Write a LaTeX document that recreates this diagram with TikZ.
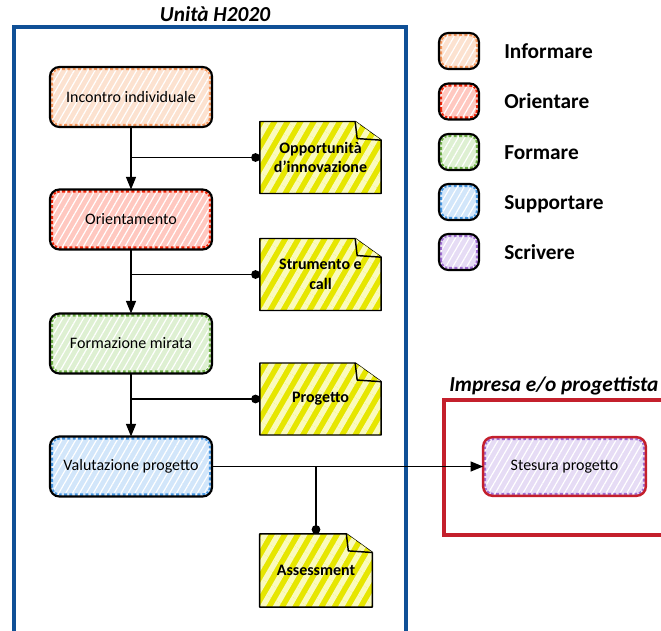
\documentclass[tikz,border=0pt]{standalone}
\usepackage{fontspec}
\setmainfont{Carlito}
\usetikzlibrary{patterns.meta,arrows.meta,calc,backgrounds}
\definecolor{framblue}{RGB}{16,80,150}
\definecolor{framred}{RGB}{196,32,44}
\definecolor{infoF}{RGB}{252,226,208}
\definecolor{infoE}{RGB}{246,150,90}
\definecolor{oriF}{RGB}{255,200,192}
\definecolor{oriE}{RGB}{240,40,10}
\definecolor{forF}{RGB}{222,240,210}
\definecolor{forE}{RGB}{110,175,70}
\definecolor{supF}{RGB}{210,230,250}
\definecolor{supE}{RGB}{70,150,225}
\definecolor{scrF}{RGB}{230,220,245}
\definecolor{scrE}{RGB}{160,110,210}
\definecolor{noteY}{RGB}{230,230,0}
\definecolor{noteL}{RGB}{250,250,190}
\tikzset{
  pbase/.style={rectangle, rounded corners=7pt, line width=1.6pt, outer sep=0pt,
    inner sep=0pt, align=center, font=\fontsize{12}{14}\selectfont,
    pattern={Lines[angle=60,distance=4.5pt,line width=0.9pt]}, pattern color=white},
  notetext/.style={rectangle, draw=none, outer sep=0pt, inner sep=0pt, align=center,
    font=\fontsize{12}{14.6}\selectfont\bfseries},
  notefill/.style={preaction={fill=noteY},
    pattern={Lines[angle=60,distance=8.5pt,line width=4.2pt]}, pattern color=noteL},
  conn/.style={line width=1.1pt, black},
  tri/.style={-{Triangle[length=9.5pt,width=7.5pt]}},
  dot/.style={-{Circle[length=6.5pt]}},
  title/.style={font=\fontsize{16}{19}\selectfont\bfseries\itshape, inner sep=0pt},
  legtext/.style={font=\fontsize{16}{19}\selectfont\bfseries, inner sep=0pt, anchor=base west},
}
% #1 name #2 pos #3 width #4 height #5 text #6 fill #7 edge #8 border #9 border width
\newcommand\pbox[9]{%
  \node[pbase, minimum width=#3, minimum height=#4, preaction={fill=#6}] (#1) at (#2) {#5};
  \begin{scope}
    \clip[rounded corners=7pt] (#1.south west) rectangle (#1.north east);
    \draw[#7, line width=4.6pt, dash pattern=on 2.2pt off 1.8pt, rounded corners=7pt]
      (#1.south west) rectangle (#1.north east);
  \end{scope}
  \draw[#8, line width=#9, rounded corners=7pt] (#1.south west) rectangle (#1.north east);
}
% #1 name #2 pos #3 width #4 height #5 text
\newcommand\notebox[5]{%
  \node[notetext, minimum width=#3, minimum height=#4] (#1) at (#2) {#5};
  \begin{scope}[on background layer]
    \path[notefill, draw=black, line width=1.1pt, line join=round]
      (#1.south west) -- (#1.north west) -- ([xshift=-19.5pt]#1.north east)
      -- ([yshift=-14pt]#1.north east) -- (#1.south east) -- cycle;
    \path[notefill, draw=black, line width=1.1pt, line join=round]
      ([xshift=-19.5pt]#1.north east) -- ([xshift=-18pt,yshift=-12.8pt]#1.north east)
      -- ([yshift=-14pt]#1.north east);
  \end{scope}
}
\begin{document}
\begin{tikzpicture}[x=0.75pt,y=-0.75pt]
\useasboundingbox (0,0) rectangle (661,631);
\clip (0,0) rectangle (661,631);

% frames
\draw[framblue, line width=3pt] (14,27) rectangle (406,720);
\node[title, anchor=base] (t1) at (215,22) {Unità H2020};
\draw[framred, line width=3pt] (444,400) rectangle (740,535);
\node[title, anchor=base west] (t2) at (449,391) {Impresa e/o progettista};

% process boxes
\pbox{inc}{131,97}{121.5pt}{45pt}{Incontro individuale}{infoF}{infoE}{black}{1.6pt}
\pbox{ori}{131,219.5}{121.5pt}{45pt}{Orientamento}{oriF}{oriE}{black}{1.6pt}
\pbox{for}{131,343.5}{121.5pt}{45pt}{Formazione mirata}{forF}{forE}{black}{1.6pt}
\pbox{val}{131,466.5}{121.5pt}{45pt}{Valutazione progetto}{supF}{supE}{black}{1.6pt}
\pbox{ste}{564.5,466.5}{122pt}{44pt}{Stesura progetto}{scrF}{scrE}{framred}{1.8pt}

% notes
\notebox{opp}{320.5,157.5}{91pt}{54pt}{Opportunità\\d’innovazione}
\notebox{str}{320.5,274.5}{91pt}{54pt}{Strumento e\\call}
\notebox{pro}{320.5,399}{91pt}{54pt}{Progetto}
\notebox{ass}{316,570.5}{84.5pt}{55pt}{Assessment}

% connectors
\draw[conn, tri] (inc) -- (ori);
\draw[conn, tri] (ori) -- (for);
\draw[conn, tri] (for) -- (val);
\draw[conn, dot] (inc.south |- opp.west) -- (opp.west);
\draw[conn, dot] (ori.south |- str.west) -- (str.west);
\draw[conn, dot] (for.south |- pro.west) -- (pro.west);
\draw[conn, tri] (val.east) -- (ste.west);
\coordinate (aj) at (ass.north |- val.east);
\draw[conn, dot] (aj) -- (ass.north);

% legend
\pbox{l1}{459,51}{30pt}{27pt}{}{infoF}{infoE}{black}{1.6pt}
\pbox{l2}{459,101.5}{30pt}{27pt}{}{oriF}{oriE}{black}{1.6pt}
\pbox{l3}{459,152}{30pt}{27pt}{}{forF}{forE}{black}{1.6pt}
\pbox{l4}{459,202}{30pt}{27pt}{}{supF}{supE}{black}{1.6pt}
\pbox{l5}{459,252}{30pt}{27pt}{}{scrF}{scrE}{black}{1.6pt}
\node[legtext] (lt1) at (504,58.5) {Informare};
\node[legtext] (lt2) at (504,109) {Orientare};
\node[legtext] (lt3) at (504,159.5) {Formare};
\node[legtext] (lt4) at (504,209.5) {Supportare};
\node[legtext] (lt5) at (504,259.5) {Scrivere};
\end{tikzpicture}
\end{document}
